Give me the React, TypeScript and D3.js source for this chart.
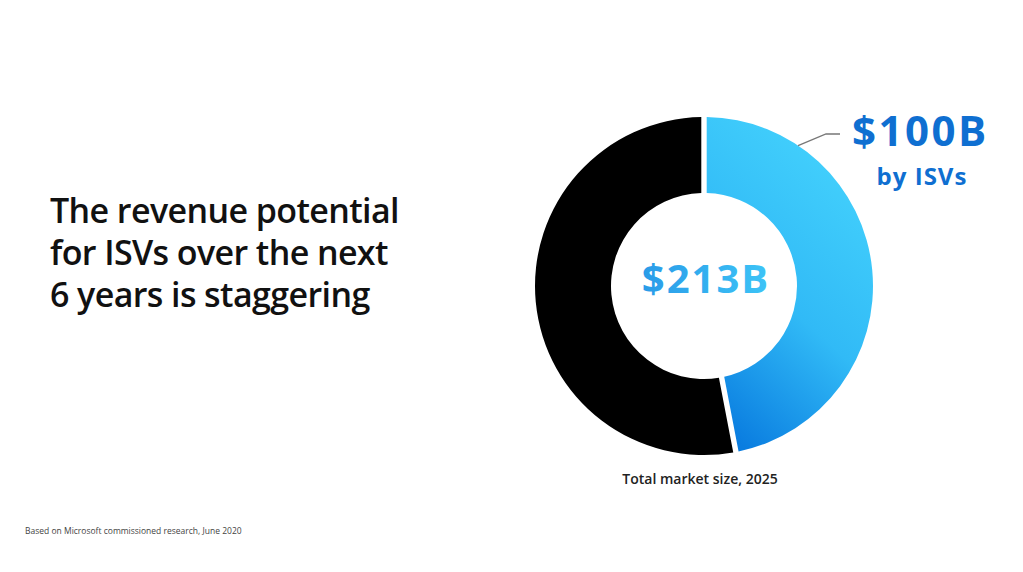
import React from "react";
import * as d3 from "d3";

const segments = ["ISVs", "Other"];
const segmentValues = [100, 113];
const totalLabel = "$213B";
const isvLabel = "$100B";
const isvSub = "by ISVs";
const titleLines = ["The revenue potential", "for ISVs over the next", "6 years is staggering"];
const caption = "Total market size, 2025";
const footnote = "Based on Microsoft commissioned research, June 2020";

export default function App() {
  const W = 1023, H = 572;
  const cx = 704, cy = 286;
  const outerR = 169, innerR = 93;
  const data = segments.map((s, i) => ({ name: s, value: segmentValues[i] }));
  const pie = d3.pie<any>().sort(null).value((d: any) => d.value).padAngle(0.028);
  const arcs = pie(data);
  const arc = d3.arc<any>().innerRadius(innerR).outerRadius(outerR);
  const font = "'Open Sans', 'Noto Sans', sans-serif";

  const a0 = arcs[0];
  const ang = a0.startAngle + (a0.endAngle - a0.startAngle) * 0.2;
  const px = cx + Math.sin(ang) * outerR;
  const py = cy - Math.cos(ang) * outerR;

  return (
    <svg width={W} height={H} style={{ position: "fixed", left: 0, top: 0, background: "#fff" }}>
      <defs>
        <linearGradient id="blueGrad" x1="0.7" y1="0" x2="0.25" y2="1">
          <stop offset="0" stopColor="#45D3FD" />
          <stop offset="0.55" stopColor="#31BAF6" />
          <stop offset="1" stopColor="#0A7DE0" />
        </linearGradient>
        <linearGradient id="centerGrad" x1="0" y1="0" x2="1" y2="0">
          <stop offset="0" stopColor="#2A9BE8" />
          <stop offset="1" stopColor="#3DC4F7" />
        </linearGradient>
      </defs>
      <rect width={W} height={H} fill="#fff" />
      <g>
        {titleLines.map((t, i) => (
          <text key={i} x={50} y={223 + i * 42} fontFamily={font} fontSize={34} fill="#111" fontWeight={600} letterSpacing={-0.6}>
            {t}
          </text>
        ))}
      </g>
      <g transform={`translate(${cx},${cy})`}>
        <path d={arc(arcs[1]) as string} fill="#000" />
        <path d={arc(arcs[0]) as string} fill="url(#blueGrad)" />
        <text x={2} y={7} textAnchor="middle" fontFamily={font} fontWeight={700} fontSize={40} letterSpacing={2} fill="url(#centerGrad)">
          {totalLabel}
        </text>
      </g>
      <polyline
        points={`${px},${py} ${826},${134} ${840},${134}`}
        fill="none"
        stroke="#777"
        strokeWidth={1.3}
      />
      <text x={852} y={146} fontFamily={font} fontWeight={700} fontSize={42} letterSpacing={2.5} fill="#0F6FD1">
        {isvLabel}
      </text>
      <text x={922} y={185} textAnchor="middle" fontFamily={font} fontWeight={700} fontSize={24} letterSpacing={1} fill="#0F6FD1">
        {isvSub}
      </text>
      <text x={700} y={484} textAnchor="middle" fontFamily={font} fontWeight={600} fontSize={14} fill="#222">
        {caption}
      </text>
      <text x={25} y={534} fontFamily={font} fontSize={8.5} fill="#444">
        {footnote}
      </text>
    </svg>
  );
}
